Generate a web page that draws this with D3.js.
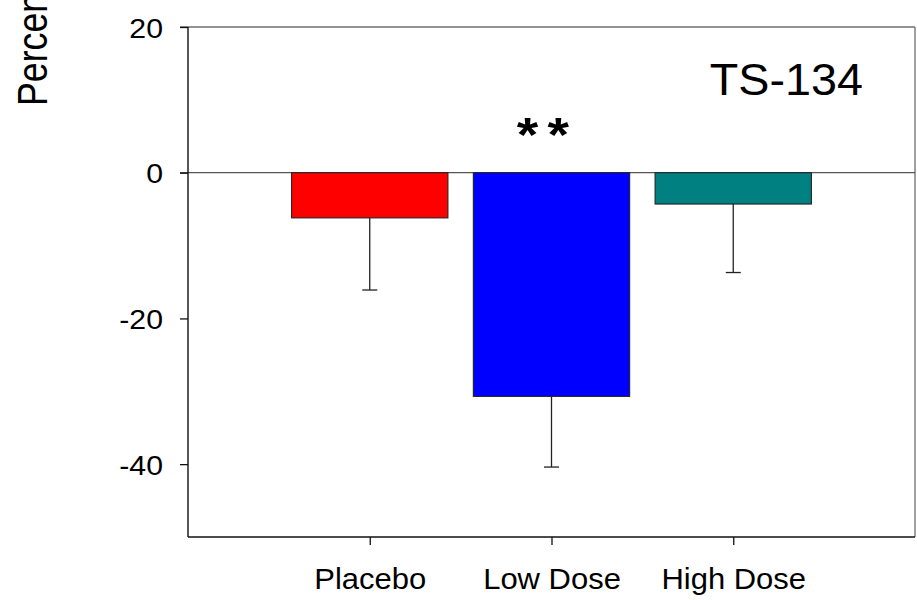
<!DOCTYPE html>
<html>
<head>
<meta charset="utf-8">
<script src="https://cdn.jsdelivr.net/npm/d3@7"></script>
<style>
  html, body { margin: 0; padding: 0; background: #fff; }
  svg { display: block; font-family: "Liberation Sans", Arial, Helvetica, sans-serif; }
</style>
</head>
<body>
<svg id="chart" width="917" height="600"></svg>
<script>
// ---- data ----
const categories = ["Placebo", "Low Dose", "High Dose"];
const meanChange = [-6.2, -30.7, -4.3];
const errorLow = [-16.1, -40.4, -13.7];
const barColors = ["#ff0000", "#0000ff", "#008080"];
const yTicks = [20, 0, -20, -40];
const significance = ["", "**", ""];
const chartLabel = "TS-134";
const yTitle = "Percent Change from Baseline";

// ---- layout ----
const svg = d3.select("#chart");
const pLeft = 188, pRight = 915, pTop = 27, pBottom = 537;

const x = d3.scaleLinear().domain([0, categories.length + 1]).range([pLeft, pRight]);
const y = d3.scaleLinear().domain([-50, 20]).range([pBottom, pTop]);
const barW = x(0.86) - x(0);

// frame (top/right gray)
svg.append("line").attr("x1", pLeft - 8).attr("x2", pRight).attr("y1", y(20)).attr("y2", y(20))
  .attr("stroke", "#6e6e6e").attr("stroke-width", 1.3);
svg.append("line").attr("x1", pRight).attr("x2", pRight).attr("y1", pTop).attr("y2", pBottom)
  .attr("stroke", "#6e6e6e").attr("stroke-width", 1.3);

// zero line
svg.append("line").attr("x1", pLeft - 8).attr("x2", pRight).attr("y1", y(0)).attr("y2", y(0))
  .attr("stroke", "#555").attr("stroke-width", 1.3);

// bars
const idx = d3.range(categories.length);
svg.append("g").selectAll("rect").data(idx).join("rect")
  .attr("x", i => x(i + 1) - barW / 2)
  .attr("width", barW)
  .attr("y", y(0))
  .attr("height", i => y(meanChange[i]) - y(0))
  .attr("fill", i => barColors[i])
  .attr("stroke", "#222").attr("stroke-width", 1.1);

// error bars (downward only)
const eb = svg.append("g").attr("stroke", "#222").attr("stroke-width", 1.3);
idx.forEach(i => {
  eb.append("line").attr("x1", x(i + 1)).attr("x2", x(i + 1))
    .attr("y1", y(meanChange[i])).attr("y2", y(errorLow[i]));
  eb.append("line").attr("x1", x(i + 1) - 7.5).attr("x2", x(i + 1) + 7.5)
    .attr("y1", y(errorLow[i])).attr("y2", y(errorLow[i]));
});

// y axis
const yAxis = svg.append("g").attr("transform", `translate(${pLeft},0)`)
  .call(d3.axisLeft(y).tickValues(yTicks).tickSize(8).tickPadding(0).tickFormat(d3.format("d")));
yAxis.select(".domain").attr("stroke", "#111").attr("stroke-width", 1.4).attr("d", `M0,${pTop}V${pBottom}`);
yAxis.selectAll(".tick line").attr("stroke", "#111").attr("stroke-width", 1.3);
yAxis.selectAll(".tick text").remove();
yAxis.selectAll(".tick").append("text")
  .attr("transform", "translate(-25,0) scale(1.08,1)")
  .attr("text-anchor", "end").attr("dy", "0.36em")
  .attr("font-size", 28).attr("fill", "#000")
  .style("font-family", '"Liberation Sans", Arial, sans-serif')
  .text(d => d);

// x axis
const xAxis = svg.append("g").attr("transform", `translate(0,${pBottom})`)
  .call(d3.axisBottom(x).tickValues(idx.map(i => i + 1)).tickSize(8).tickFormat(""));
xAxis.select(".domain").attr("stroke", "#111").attr("stroke-width", 1.4).attr("d", `M${pLeft},0H${pRight}`);
xAxis.selectAll(".tick line").attr("stroke", "#111").attr("stroke-width", 1.3);
xAxis.selectAll(".tick").append("text")
  .attr("transform", "translate(0,52) scale(1.05,1)")
  .attr("text-anchor", "middle")
  .attr("font-size", 29.5).attr("fill", "#000")
  .style("font-family", '"Liberation Sans", Arial, sans-serif')
  .text(d => categories[d - 1]);

// significance markers
idx.forEach(i => {
  if (!significance[i]) return;
  svg.append("text")
    .attr("transform", `translate(${x(i + 1) - 4},151) scale(1.15,1)`)
    .attr("text-anchor", "middle")
    .attr("font-size", 48).attr("font-weight", "bold")
    .attr("letter-spacing", 8)
    .text(significance[i]);
});

// chart label
svg.append("text")
  .attr("transform", "translate(863,95) scale(1.05,1)")
  .attr("text-anchor", "end")
  .attr("font-size", 44.5).attr("fill", "#000")
  .text(chartLabel);

// y title (rotated, cut at top as in the reference)
svg.append("text")
  .attr("transform", "translate(47,106) rotate(-90) scale(0.85,1)")
  .attr("text-anchor", "start")
  .attr("font-size", 42).attr("fill", "#000")
  .text(yTitle);
</script>
</body>
</html>
